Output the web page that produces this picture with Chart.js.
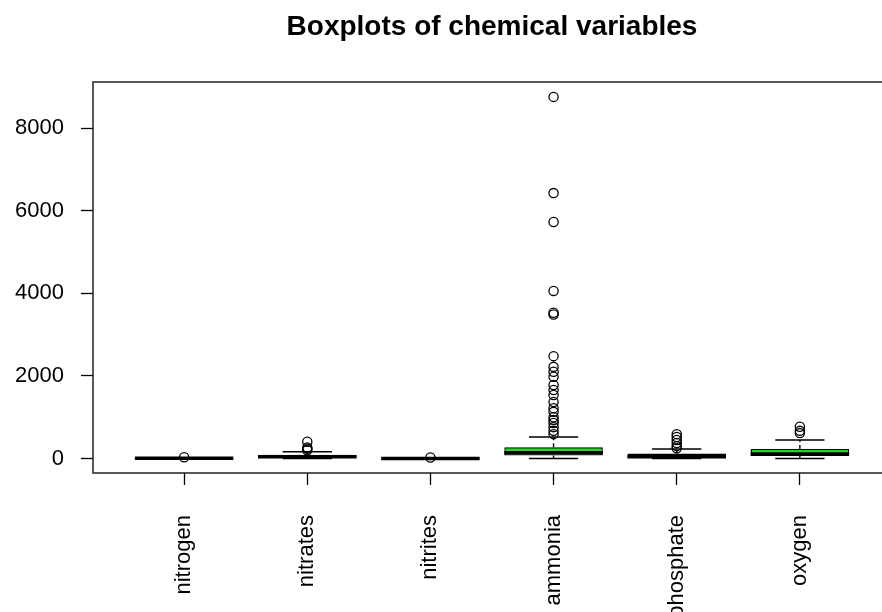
<!DOCTYPE html>
<html>
<head>
<meta charset="utf-8">
<script src="https://cdn.jsdelivr.net/npm/chart.js@4"></script>
<style>
  html, body { margin: 0; padding: 0; background: #fff; overflow: hidden; }
  #wrap { position: relative; width: 984px; height: 612px; }
</style>
</head>
<body>
<div id="wrap"><canvas id="chart"></canvas></div>
<script>
const CATEGORIES = ['nitrogen', 'nitrates', 'nitrites', 'ammonia', 'phosphate', 'oxygen']

// five-number summaries
const LOWER_WHISKER = [0, 0, 0, 0, 0, 0]
const Q1 = [2, 15, 1, 70, 15, 60]
const MEDIAN = [5, 45, 3, 140, 40, 110]
const Q3 = [10, 90, 6, 270, 120, 230]
const UPPER_WHISKER = [22, 165, 14, 520, 230, 450]

const OUTLIERS = [
  [30],
  [200, 235, 265, 405],
  [25],
  [8760, 6430, 5730, 4060, 3530, 3490, 2480, 2220, 2100, 1980, 1780, 1660,
    1540, 1370, 1220, 1130, 1000, 930, 860, 760, 670, 590],
  [250, 300, 375, 450, 520, 590],
  [615, 670, 770],
]

const Y_TICKS = [0, 2000, 4000, 6000, 8000]
const X_TICKS = CATEGORIES.map((_, i) => i + 1)

const FONT = "'Liberation Sans', Arial, sans-serif"
const BOX_FILL = '#00ee00'
const BOX_WEX = 0.8

const boxPlugin = {
  id: 'boxWhiskers',
  beforeDatasetsDraw(chart) {
    const { ctx, scales: { x, y } } = chart
    const unit = x.getPixelForValue(2) - x.getPixelForValue(1)
    const staple = unit * BOX_WEX * 0.25
    ctx.save()
    ctx.strokeStyle = '#000'
    ctx.lineWidth = 1.4
    CATEGORIES.forEach((_, i) => {
      const cx = x.getPixelForValue(i + 1)
      ctx.setLineDash([4, 3])
      ctx.beginPath()
      ctx.moveTo(cx, y.getPixelForValue(Q3[i]))
      ctx.lineTo(cx, y.getPixelForValue(UPPER_WHISKER[i]))
      ctx.moveTo(cx, y.getPixelForValue(Q1[i]))
      ctx.lineTo(cx, y.getPixelForValue(LOWER_WHISKER[i]))
      ctx.stroke()
      ctx.setLineDash([])
      ctx.beginPath()
      for (const v of [UPPER_WHISKER[i], LOWER_WHISKER[i]]) {
        const py = y.getPixelForValue(v)
        ctx.moveTo(cx - staple, py)
        ctx.lineTo(cx + staple, py)
      }
      ctx.stroke()
    })
    ctx.restore()
  },
  afterDatasetDraw(chart, args) {
    if (args.index !== 0) return
    const { ctx, scales: { x, y } } = chart
    const unit = x.getPixelForValue(2) - x.getPixelForValue(1)
    const half = unit * BOX_WEX / 2
    ctx.save()
    ctx.strokeStyle = '#000'
    ctx.lineWidth = 3.5
    ctx.lineCap = 'butt'
    CATEGORIES.forEach((_, i) => {
      const cx = x.getPixelForValue(i + 1)
      const py = y.getPixelForValue(MEDIAN[i])
      ctx.beginPath()
      ctx.moveTo(cx - half, py)
      ctx.lineTo(cx + half, py)
      ctx.stroke()
    })
    ctx.restore()
  },
  afterDraw(chart) {
    const { ctx, chartArea: a } = chart
    ctx.save()
    ctx.strokeStyle = '#222'
    ctx.lineWidth = 1.5
    ctx.strokeRect(a.left, a.top, a.right - a.left, a.bottom - a.top)
    ctx.restore()
  },
}

new Chart(document.getElementById('chart'), {
  data: {
    datasets: [
      {
        type: 'bar',
        data: CATEGORIES.map((_, i) => ({ x: i + 1, y: [Q1[i], Q3[i]] })),
        backgroundColor: BOX_FILL,
        borderColor: '#000',
        borderWidth: 1.4,
        borderSkipped: false,
        barPercentage: BOX_WEX,
        categoryPercentage: 1,
      },
      {
        type: 'scatter',
        data: OUTLIERS.flatMap((vals, i) => vals.map((v) => ({ x: i + 1, y: v }))),
        pointStyle: 'circle',
        pointRadius: 4.6,
        pointBorderWidth: 1.3,
        pointBorderColor: '#000',
        pointBackgroundColor: 'rgba(0,0,0,0)',
      },
    ],
  },
  options: {
    responsive: true,
    maintainAspectRatio: false,
    animation: false,
    layout: { padding: 0 },
    plugins: {
      legend: { display: false },
      tooltip: { enabled: false },
      title: {
        display: true,
        text: 'Boxplots of chemical variables',
        color: '#000',
        font: { family: FONT, size: 28, weight: 'bold', lineHeight: 1.2 },
        padding: { top: 10, bottom: 38.4 },
      },
    },
    scales: {
      x: {
        type: 'linear',
        min: 0.26,
        max: 6.74,
        offset: false,
        afterBuildTicks: (scale) => { scale.ticks = X_TICKS.map((value) => ({ value })) },
        afterFit: (scale) => { scale.height = 139 },
        border: { display: false },
        grid: { offset: false, drawOnChartArea: false, drawTicks: true, tickLength: 12, color: '#000', tickWidth: 1.3 },
        ticks: {
          autoSkip: false,
          minRotation: 90,
          maxRotation: 90,
          padding: 30,
          color: '#000',
          font: { family: FONT, size: 22 },
          callback: (value) => CATEGORIES[value - 1],
        },
      },
      y: {
        type: 'linear',
        min: -351,
        max: 9121,
        afterBuildTicks: (scale) => { scale.ticks = Y_TICKS.map((value) => ({ value })) },
        afterFit: (scale) => { scale.width = 93 },
        border: { display: false },
        grid: { drawOnChartArea: false, drawTicks: true, tickLength: 12, color: '#000', tickWidth: 1.3 },
        ticks: {
          padding: 17,
          color: '#000',
          font: { family: FONT, size: 22 },
          callback: (value) => String(value),
        },
      },
      // empty right margin so the plot region ends where the original one does
      yRight: {
        type: 'linear',
        position: 'right',
        afterFit: (scale) => { scale.width = 93 },
        border: { display: false },
        grid: { display: false },
        ticks: { display: false },
      },
    },
  },
  plugins: [boxPlugin],
})
</script>
</body>
</html>
